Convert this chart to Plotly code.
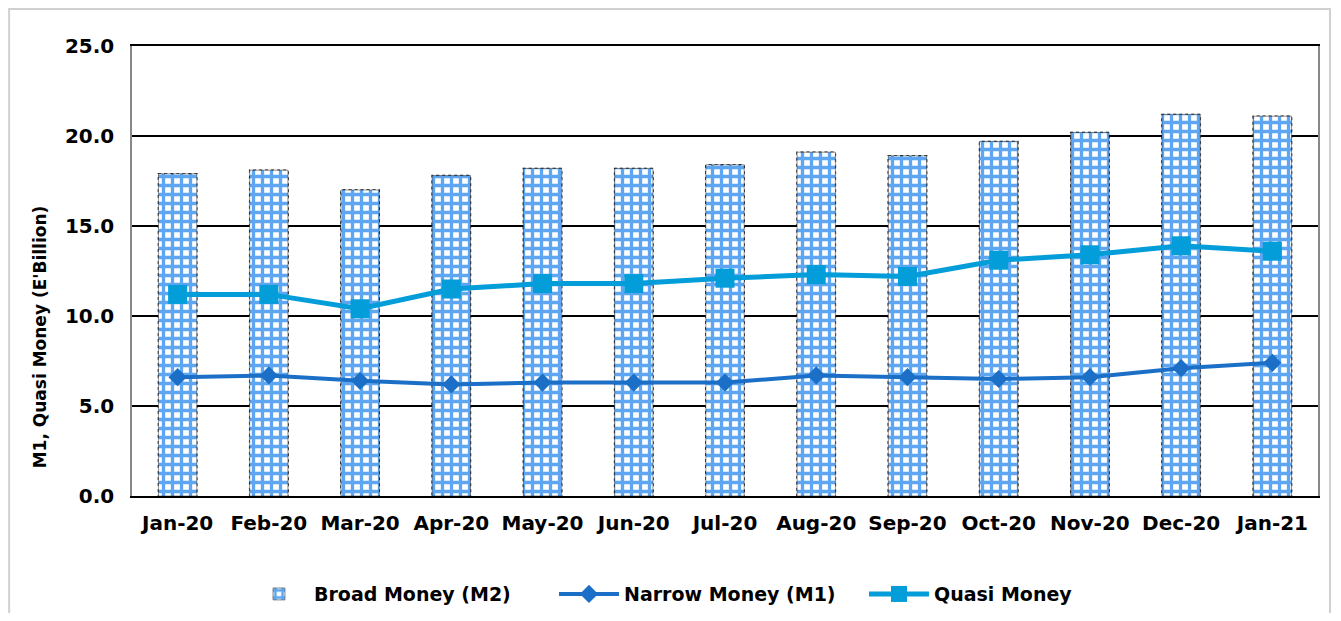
import plotly.graph_objects as go

months = ["Jan-20", "Feb-20", "Mar-20", "Apr-20", "May-20", "Jun-20", "Jul-20",
          "Aug-20", "Sep-20", "Oct-20", "Nov-20", "Dec-20", "Jan-21"]
broad_m2 = [17.9, 18.1, 17.0, 17.8, 18.2, 18.2, 18.4, 19.1, 18.9, 19.7, 20.2, 21.2, 21.1]
narrow_m1 = [6.6, 6.7, 6.4, 6.2, 6.3, 6.3, 6.3, 6.7, 6.6, 6.5, 6.6, 7.1, 7.4]
quasi = [11.2, 11.2, 10.4, 11.5, 11.8, 11.8, 12.1, 12.3, 12.2, 13.1, 13.4, 13.9, 13.6]
y_ticks = [0, 5, 10, 15, 20, 25]
y_title = "M1, Quasi Money (E'Billion)"

FONT = "DejaVu Sans"
BAR_W = 0.42

fig = go.Figure()
fig.add_trace(go.Bar(
    x=months, y=broad_m2, name="Broad Money (M2)", width=BAR_W,
    marker=dict(color="white",
                line=dict(color="#222222", width=0.5),
                pattern=dict(shape="+", fgcolor="#5EA6F2", bgcolor="white",
                             size=9, solidity=0.6, fillmode="replace")),
))
fig.add_trace(go.Scatter(
    x=months, y=narrow_m1, name="Narrow Money (M1)", mode="lines+markers",
    line=dict(color="#1C6FC6", width=4),
    marker=dict(symbol="diamond", size=14, color="#1C6FC6"),
))
fig.add_trace(go.Scatter(
    x=months, y=quasi, name="Quasi Money", mode="lines+markers",
    line=dict(color="#039DDA", width=5),
    marker=dict(symbol="square", size=19, color="#039DDA"),
))

# dotted outlines around bars (derived from the data)
for i, v in enumerate(broad_m2):
    fig.add_shape(type="rect", xref="x", yref="y",
                  x0=i - BAR_W / 2, x1=i + BAR_W / 2, y0=0, y1=v,
                  line=dict(color="#111111", width=1.5, dash="dot"),
                  fillcolor="rgba(0,0,0,0)", layer="below")

# outer light-grey frame
fig.add_shape(type="rect", xref="paper", yref="paper",
              x0=-0.1036, x1=1.0101, y0=-0.35, y1=1.0822,
              line=dict(color="#D0D0D0", width=2), fillcolor="rgba(0,0,0,0)",
              layer="below")

# y-axis title (placed like the original, below centre)
fig.add_annotation(text=y_title, xref="paper", yref="paper",
                   x=-0.0774, y=0.353, xanchor="center", yanchor="middle",
                   textangle=-90, showarrow=False,
                   font=dict(family=FONT, size=17, color="black", weight="bold"))

fig.update_layout(
    width=1325, height=605,
    margin=dict(l=124, r=15, t=38, b=117, autoexpand=False),
    plot_bgcolor="white", paper_bgcolor="white",
    font=dict(family=FONT, size=19, color="black", weight="bold"),
    bargap=0.58,
    showlegend=True,
    legend=dict(orientation="h", x=0.4865, xanchor="center", y=-0.218, yanchor="middle",
                font=dict(family=FONT, size=19, color="black", weight="bold"),
                itemwidth=60, entrywidth=235, entrywidthmode="pixels",
                traceorder="normal"),
    xaxis=dict(type="category", range=[-0.5, len(months) - 0.5], autorange=False,
               showgrid=False, ticks="", showline=True,
               linecolor="#000000", linewidth=1.5, mirror=True,
               tickfont=dict(family=FONT, size=20, weight="bold"), ticklabelstandoff=8),
    yaxis=dict(range=[0, 25], tickvals=y_ticks, tickformat=".1f",
               showgrid=True, gridcolor="#000000", gridwidth=1.5,
               showline=True, linecolor="#888888", linewidth=1.5, mirror=True,
               zeroline=False, ticks="", ticklabelstandoff=12,
               tickfont=dict(family=FONT, size=20, weight="bold")),
)

fig.write_html("out.html")
